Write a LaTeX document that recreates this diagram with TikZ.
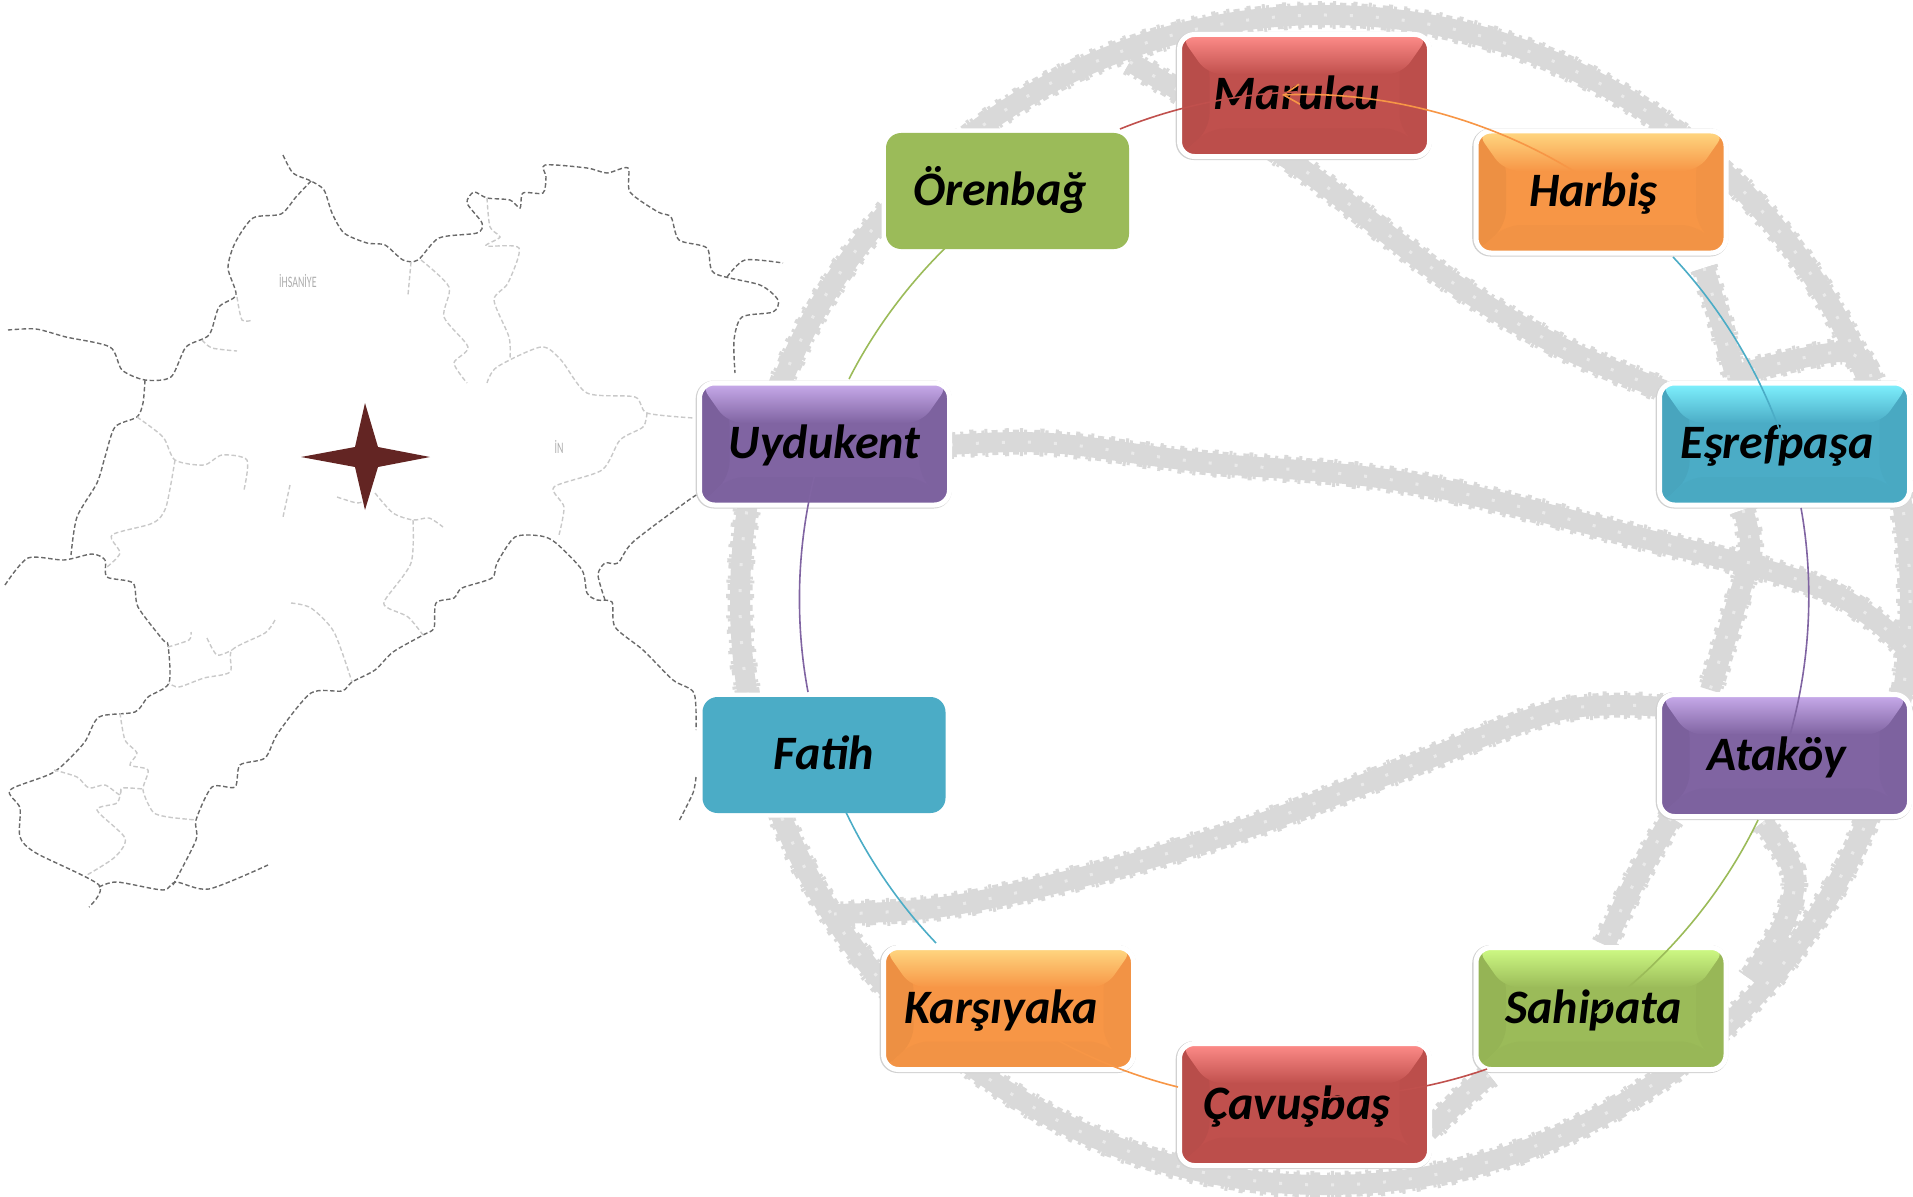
\documentclass[tikz,border=0pt]{standalone}
\usepackage{fontspec}
\setmainfont{Carlito}
\usetikzlibrary{calc,arrows.meta}
\definecolor{redC}{HTML}{C0504D}
\definecolor{orangeC}{HTML}{F79646}
\definecolor{greenC}{HTML}{9BBB59}
\definecolor{blueC}{HTML}{4BACC6}
\definecolor{purpleC}{HTML}{8064A2}
\definecolor{redH}{HTML}{FF8D8A}
\definecolor{orangeH}{HTML}{FFD882}
\definecolor{greenH}{HTML}{CFFB85}
\definecolor{blueH}{HTML}{80F2FF}
\definecolor{purpleH}{HTML}{C9ACEC}
\definecolor{starC}{HTML}{632523}
\definecolor{bandC}{HTML}{D9D9D9}
\definecolor{darkdash}{HTML}{6A6A6A}
\definecolor{lightdash}{HTML}{C9C9C9}
\newcommand\lblshift[1]{#1\hspace{15pt}\mbox{}}
\newcommand\gband[1]{%
 \draw[band] plot[smooth,tension=.6] coordinates {#1};
 \draw[bandrougha] plot[smooth,tension=.6] coordinates {#1};
 \draw[bandroughb] plot[smooth,tension=.6] coordinates {#1};
 \draw[speck] plot[smooth,tension=.6] coordinates {#1};}
\newcommand\mapd[1]{\draw[darkline] plot[smooth,tension=.45] coordinates {#1};}
\newcommand\mapl[1]{\draw[lightline] plot[smooth,tension=.45] coordinates {#1};}
\tikzset{
 band/.style={draw=bandC,line width=20pt},
 bandrougha/.style={draw=bandC,line width=25pt,dash pattern=on 6pt off 5pt on 3pt off 7pt},
 bandroughb/.style={draw=bandC,line width=28pt,dash pattern=on 3pt off 17pt on 4pt off 11pt},
 speck/.style={draw=white,opacity=.45,line width=3pt,dash pattern=on 3pt off 23pt},
 darkline/.style={draw=darkdash,line width=1.4pt,dash pattern=on 4.5pt off 2.5pt},
 lightline/.style={draw=lightdash,line width=1.4pt,dash pattern=on 4.5pt off 2.5pt},
 boxbase/.style={rectangle,rounded corners=15pt,inner sep=0pt,text height=45pt,text depth=16pt,text=black,font=\fontsize{48}{48}\selectfont\bfseries\itshape},
 flatbox/.style={boxbase,minimum width=243pt,minimum height=116pt,fill=#1C,preaction={draw=white,line width=9pt}},
 bevelbox/.style={boxbase,minimum width=250pt,minimum height=122pt,fill=#1C,draw=white,line width=5pt,
  preaction={draw=black!18,line width=6pt,transform canvas={xshift=-.8pt,yshift=-.5pt}},
  path picture={
   \fill[#1C!96!black]
     (path picture bounding box.north west) -- ([shift={(30,28)}]path picture bounding box.north west)
     -- ([shift={(30,-28)}]path picture bounding box.south west) -- (path picture bounding box.south west) -- cycle;
   \fill[#1C!98!black]
     (path picture bounding box.north east) -- ([shift={(-30,28)}]path picture bounding box.north east)
     -- ([shift={(-30,-28)}]path picture bounding box.south east) -- (path picture bounding box.south east) -- cycle;
   \fill[#1C!98!black]
     (path picture bounding box.south west) -- ([shift={(30,-28)}]path picture bounding box.south west)
     -- ([shift={(-30,-28)}]path picture bounding box.south east) -- (path picture bounding box.south east) -- cycle;
   \shade[top color=#1H,bottom color=#1C]
     (path picture bounding box.north west) -- (path picture bounding box.north east)
     -- ([shift={(-28,40)}]path picture bounding box.north east) -- ([shift={(28,40)}]path picture bounding box.north west) -- cycle;
  }},
 conn/.style={draw=#1C,line width=1.6pt},
 maplabel/.style={text=black!32,inner sep=0pt,font=\fontsize{16}{16}\selectfont,xscale=.62},
 starshape/.style={fill=starC,draw=none}
}
\begin{document}
\begin{tikzpicture}[x=1pt,y=-1pt]
\useasboundingbox (0,0) rectangle (1913,1196);
% ---- background globe
\begin{scope}
\clip (0,0) rectangle (1913,1196);
\draw[band] (1325,600) circle [radius=585];
\draw[bandrougha] (1325,600) circle [radius=585];
\draw[bandroughb] (1325,600) circle [radius=585];
\draw[speck] (1325,600) circle [radius=585];
\gband{(1130,62) (1291,161) (1443,276) (1557,345) (1664,390)}
\gband{(950,445) (1050,443) (1200,462) (1405,482) (1634,536) (1826,590) (1913,655)}
\gband{(1662,707) (1557,711) (1405,768) (1253,826) (1101,872) (949,906) (834,914)}
\gband{(1704,268) (1720,320) (1735,375)}
\gband{(1743,510) (1750,552) (1733,615) (1710,690)}
\gband{(1671,818) (1634,883) (1605,945)}
\gband{(1489,1075) (1460,1100) (1428,1132)}
\gband{(1763,822) (1793,872) (1785,921) (1750,979)}
\gband{(1727,377) (1842,352) (1872,380)}
\end{scope}
% ---- map
\mapd{(283,155) (293,173) (311,181) (324,190) (332,213) (344,233) (367,243) (385,245) (403,260) (418,260) (439,238) (477,233) (482,223) (467,203) (474,192) (487,198) (510,200) (520,208) (523,193) (543,193) (546,177) (545,165) (587,168) (607,173) (628,168) (630,192) (658,212) (671,217) (679,240) (707,248) (714,273) (760,285) (778,300) (773,312) (742,317) (734,340) (735,373)}
\mapd{(727,277) (745,260) (783,263)}
\mapd{(311,181) (296,197) (281,214) (253,218) (235,243) (228,268) (236,295) (219,307) (209,335) (186,347) (171,377) (145,380) (122,370) (110,347) (66,337) (36,329) (8,330)}
\mapd{(145,380) (143,403) (137,417) (115,427) (105,457) (97,483) (77,517) (71,555)}
\mapd{(5,585) (28,558) (64,560) (92,554) (105,560) (107,577) (133,583) (138,607) (163,640) (168,645) (169,683) (148,697) (135,712) (99,717) (84,743) (54,772) (10,790) (20,808) (20,837) (36,853) (99,885) (89,907)}
\mapd{(99,887) (117,882) (163,890) (176,882) (209,889) (268,865)}
\mapd{(173,885) (196,840) (196,820) (212,787) (235,787) (240,765) (265,758) (278,733) (311,693) (342,691) (352,682) (375,670) (393,652) (423,635) (434,628) (436,603) (454,598) (462,588) (492,578) (497,563) (515,537) (541,536) (556,543) (582,570) (587,593) (597,600) (612,602) (615,627) (643,650) (673,680) (694,693) (696,730)}
\mapd{(696,777) (693,793) (679,821)}
\mapd{(605,600) (598,575) (605,563) (618,563) (633,542) (686,502) (698,494)}
\mapl{(411,262) (408,295)}
\mapl{(421,260) (449,287) (444,317) (468,347) (454,363) (467,383)}
\mapl{(487,198) (490,227) (500,237) (486,246) (519,248) (508,283) (494,300) (509,337) (510,358)}
\mapl{(487,383) (497,367) (541,347) (561,360) (587,393) (635,397) (647,413) (694,418)}
\mapl{(647,413) (643,427) (620,440) (602,470) (554,487) (564,507) (559,535)}
\mapl{(237,297) (242,320) (253,320)}
\mapl{(202,340) (212,348) (237,351)}
\mapl{(137,417) (163,437) (175,460) (204,465) (222,455) (247,460) (244,490)}
\mapl{(175,460) (166,507) (153,523) (112,535) (120,553) (107,567)}
\mapl{(290,485) (283,517)}
\mapl{(337,497) (357,503) (366,500)}
\mapl{(375,493) (393,513) (413,520) (429,518) (443,527)}
\mapl{(413,520) (411,563) (385,600) (388,608) (408,617) (423,635)}
\mapl{(291,603) (311,608) (334,632) (352,682)}
\mapl{(275,620) (265,633) (232,650) (230,672) (204,678) (179,687) (169,683)}
\mapl{(207,638) (217,655) (232,650)}
\mapl{(168,647) (189,640) (191,632)}
\mapl{(120,713) (125,740) (137,753) (130,765) (148,770) (143,790) (153,812) (168,817) (196,820)}
\mapl{(54,770) (77,777) (89,788) (105,785) (120,795) (122,788) (143,789)}
\mapl{(121,790) (117,803) (97,810) (125,838) (115,857) (87,875)}
\begin{scope}
\clip (270,265) rectangle (321,292);
\node[maplabel,anchor=west] (ihsaniye) at (279,281) {İHSANİYE};
\end{scope}
\node[maplabel] (inlabel) at (559,447) {İN};
% ---- star
\fill[starshape] (365,403) -- (378,447) -- (430,457) -- (378,467) -- (365,510) -- (355,467) -- (301,457) -- (355,447) -- cycle;
% ---- boxes
\node[bevelbox=red] (marulcu) at (1304.5,95.5) {\lblshift{Marulcu}};
\node[bevelbox=orange] (harbis) at (1601,192) {\lblshift{Harbiş}};
\node[flatbox=green] (orenbag) at (1007.5,191) {\lblshift{Örenbağ}};
\node[bevelbox=purple] (uydukent) at (824.5,444) {Uydukent};
\node[bevelbox=blue] (esref) at (1784.5,444) {\lblshift{Eşrefpaşa}};
\node[flatbox=blue] (fatih) at (824,755) {Fatih};
\node[bevelbox=purple] (atakoy) at (1784.5,755.5) {\lblshift{Ataköy}};
\node[bevelbox=green] (sahipata) at (1601,1008.5) {\lblshift{Sahipata}};
\node[bevelbox=orange] (karsiyaka) at (1008.5,1008.5) {\lblshift{Karşıyaka}};
\node[bevelbox=red] (cavusbas) at (1304.5,1104.5) {\lblshift{Çavuşbaş}};
% ---- connectors
\draw[conn=orange,-{Straight Barb[length=16pt,width=20pt]}] ($(harbis)+(-9,-9)$) to[bend right=18.5,looseness=.85] ($(marulcu)+(-22.5,-.5)$);
\draw[conn=red] ($(marulcu)+(-7.5,-3.5)$) to[bend right=10.2,looseness=.85] ($(orenbag)+(112.5,-62)$);
\draw[conn=green] ($(orenbag)+(-12.5,14)$) to[bend right=13,looseness=.85] ($(uydukent)+(24.5,-65)$);
\draw[conn=purple] ($(uydukent)+(-8.5,26)$) to[bend right=12.75,looseness=.85] ($(fatih)+(-16,-63)$);
\draw[conn=blue] ($(fatih)+(12,35)$) to[bend right=10.5,looseness=.85] ($(karsiyaka)+(-72.5,-65.5)$);
\draw[conn=orange] ($(karsiyaka)+(34.5,23.5)$) to[bend right=8.3,looseness=.85] ($(cavusbas)+(-126.5,-17.5)$);
\draw[conn=red] ($(cavusbas)+(15.5,-7.5)$) to[bend right=9.6,looseness=.85] ($(sahipata)+(-114,60.5)$);
\draw[conn=green] ($(sahipata)+(-6,4.5)$) to[bend right=14.5,looseness=.85] ($(atakoy)+(-26.5,64.5)$);
\draw[conn=purple] ($(atakoy)+(2.5,-10.5)$) to[bend right=13.6,looseness=.85] ($(esref)+(16.5,64)$);
\draw[conn=blue] ($(esref)+(-1.5,-4)$) to[bend right=12.2,looseness=.85] ($(harbis)+(72,65)$);
\end{tikzpicture}
\end{document}
